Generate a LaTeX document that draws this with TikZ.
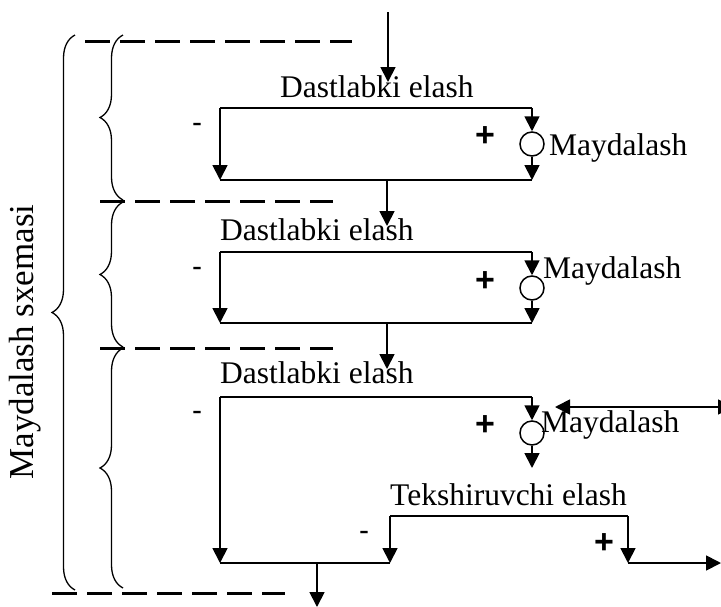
\documentclass[tikz,border=0pt]{standalone}
\usepackage{fontspec}
\setmainfont{Liberation Serif}
\newfontfamily\signfont{Liberation Sans}
\usetikzlibrary{arrows.meta,decorations.pathreplacing}
\begin{document}
\begin{tikzpicture}[x=1pt,y=-1pt,
  tip/.tip={Triangle[length=15pt,width=15pt]},
  flow/.style={line width=1.8pt,-tip},
  edge/.style={line width=1.5pt},
  dashline/.style={line width=3pt,dash pattern=on 25pt off 10pt},
  bracestyle/.style={line width=1.3pt,decorate,decoration={brace,amplitude=23pt}},
  lbl/.style={font=\fontsize{31.5}{36}\selectfont,inner sep=0pt},
  sign/.style={font=\signfont\fontsize{30}{34}\selectfont,inner sep=0pt},
  plus/.style={font=\signfont\bfseries\fontsize{34}{38}\selectfont,inner sep=0pt},
  mill/.style={circle,draw,line width=1.5pt,minimum size=24pt,inner sep=0pt}]
\useasboundingbox (0,0) rectangle (721,606);

% dashed stage separators
\coordinate (d1a) at (85,41);  \coordinate (d1b) at (352,41);
\coordinate (d2a) at (100,201); \coordinate (d2b) at (333,201);
\coordinate (d3a) at (100,348); \coordinate (d3b) at (333,348);
\coordinate (d4a) at (52,593);  \coordinate (d4b) at (285,593);
\draw[dashline] (d1a) -- (d1b);
\draw[dashline] (d2a) -- (d2b);
\draw[dashline] (d3a) -- (d3b);
\draw[dashline] (d4a) -- (d4b);

% braces
\coordinate (B0s) at (75,590); \coordinate (B0e) at (75,35);
\coordinate (B1s) at (123,200); \coordinate (B1e) at (123,35);
\coordinate (B2s) at (123,347); \coordinate (B2e) at (123,202);
\coordinate (B3s) at (123,588); \coordinate (B3e) at (123,348);
\draw[bracestyle] (B0s) -- (B0e);
\draw[bracestyle] (B1s) -- (B1e);
\draw[bracestyle] (B2s) -- (B2e);
\draw[bracestyle] (B3s) -- (B3e);
\node[font=\fontsize{35}{40}\selectfont,rotate=90,inner sep=0pt] (scheme) at (25,342) {Maydalash sxemasi};

% ---- stage 1
\coordinate (in1) at (388,12); \coordinate (in1e) at (388,82);
\draw[flow] (in1) -- (in1e);
\node[lbl,anchor=base west] (s1) at (280,97) {Dastlabki elash};
\coordinate (b1tl) at (220,108); \coordinate (b1tr) at (532,108);
\coordinate (b1bl) at (220,180); \coordinate (b1br) at (532,180);
\node[mill] (m1) at (532,144) {};
\node[lbl,anchor=base west] (m1l) at (549,155) {Maydalash};
\node[plus] (p1) at (485,137) {+};
\node[sign] (n1) at (197,128) {-};
\draw[edge] (b1tl) -- (b1tr);
\draw[flow] (b1tl) -- (b1bl);
\draw[flow] (b1tr) -- (m1.north);
\draw[flow] (m1.south) -- (b1br);
\draw[edge] (b1bl) -- (b1br);

% ---- stage 2
\coordinate (o1) at (387,180); \coordinate (o1e) at (387,226);
\draw[flow] (o1) -- (o1e);
\node[lbl,anchor=base west] (s2) at (220,240) {Dastlabki elash};
\coordinate (b2tl) at (220,252); \coordinate (b2tr) at (532,252);
\coordinate (b2bl) at (220,323); \coordinate (b2br) at (532,323);
\node[mill] (m2) at (532,288) {};
\node[lbl,anchor=base west] (m2l) at (543,278) {Maydalash};
\node[plus] (p2) at (485,282) {+};
\node[sign] (n2) at (197,272) {-};
\draw[edge] (b2tl) -- (b2tr);
\draw[flow] (b2tl) -- (b2bl);
\draw[flow] (b2tr) -- (m2.north);
\draw[flow] (m2.south) -- (b2br);
\draw[edge] (b2bl) -- (b2br);

% ---- stage 3
\coordinate (o2) at (387,323); \coordinate (o2e) at (387,369);
\draw[flow] (o2) -- (o2e);
\node[lbl,anchor=base west] (s3) at (220,383) {Dastlabki elash};
\coordinate (b3tl) at (220,397); \coordinate (b3tr) at (532,397);
\coordinate (b3bl) at (220,563); \coordinate (b3br) at (390,563);
\node[mill] (m3) at (532,433) {};
\node[lbl,anchor=base west] (m3l) at (541,432) {Maydalash};
\node[plus] (p3) at (485,426) {+};
\node[sign] (n3) at (197,416) {-};
\coordinate (m3o) at (532,468);
\draw[edge] (b3tl) -- (b3tr);
\draw[flow] (b3tl) -- (b3bl);
\draw[flow] (b3tr) -- (m3.north);
\draw[flow] (m3.south) -- (m3o);
\draw[edge] (b3bl) -- (b3br);
\coordinate (ret) at (733,407); \coordinate (rete) at (555,407);
\draw[flow,tip-tip] (rete) -- (ret);

% control screening
\node[lbl,anchor=base west] (k) at (390,505) {Tekshiruvchi elash};
\coordinate (ktl) at (390,516); \coordinate (ktr) at (628,516);
\coordinate (kbl) at (390,563); \coordinate (kbr) at (628,563);
\coordinate (prod) at (721,563);
\node[sign] (n4) at (364,536) {-};
\node[plus] (p4) at (604,544) {+};
\draw[edge] (ktl) -- (ktr);
\draw[flow] (ktl) -- (kbl);
\draw[flow] (ktr) -- (kbr);
\draw[flow] (kbr) -- (prod);

% final output
\coordinate (fo) at (317,563); \coordinate (foe) at (317,607);
\draw[flow] (fo) -- (foe);
\end{tikzpicture}
\end{document}
